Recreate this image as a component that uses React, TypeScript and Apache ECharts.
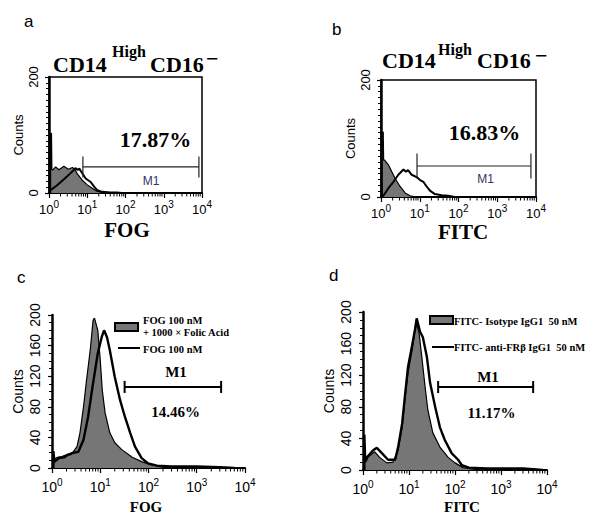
import React, { useEffect, useRef } from "react";
import * as echarts from "echarts";

const SANS = "'Liberation Sans', Arial, sans-serif";
const SERIF = "'Liberation Serif', 'Times New Roman', serif";

// ---- data (x = fluorescence intensity, y = counts) ----
const aControl = [[1.1,0],[1.1,103],[1.16,103],[1.19,40],[1.26,40],[1.49,45],[1.82,40],[2.45,46],[3.2,41],[4.1,44],[4.7,41],[5.5,33],[7.4,22],[10,14],[13.5,8],[18,3],[24.5,1],[40,0],[10000,0]];
const aStained = [[1.1,5],[1.6,13],[2.5,24],[3.5,33],[5.0,43],[5.5,40],[6.2,42],[7.4,34],[9.1,25],[12.3,19],[15.1,11],[18.2,5],[24.5,2],[40,1],[60,1],[80,0]];
const aGate = [7.7, 8300, 45];

const bControl = [[1.08,0],[1.08,111],[1.14,111],[1.17,63],[1.24,63],[1.55,55],[1.9,43],[2.3,32],[3.1,18],[4.2,7],[5.6,2],[8,0],[10000,0]];
const bStained = [[1.1,0],[1.55,15],[2.1,26],[2.8,38],[3.8,47],[4.4,43],[5.0,46],[6.2,38],[8.3,34],[10.2,29],[12.4,26],[15,18],[18.3,11],[24.6,5],[37,3],[55,2],[79,0]];
const bGate = [8.5, 7400, 53];

const cBlocked = [[1.06,7],[1.15,12],[1.3,14],[1.6,15],[2.1,18],[2.4,17],[2.75,21],[3.3,28],[3.8,46],[4.5,80],[5.2,115],[6.2,154],[7.1,193],[7.6,196],[8.9,180],[10,141],[11,102],[12.6,72],[15.8,46],[20,33],[28,24],[46,14],[74,8],[117,4],[200,1],[400,0],[10000,0]];
const cFog = [[1.07,0],[1.07,22],[1.12,8],[1.4,13],[1.8,14],[2.1,17],[2.8,20],[3.5,21],[4.5,37],[5.6,67],[7.1,111],[8.9,150],[10.7,171],[12,180],[13.8,171],[15.8,154],[20,119],[25.7,89],[32.4,67],[41.7,46],[52.5,28],[72,13],[98,6],[150,3],[300,2],[1000,2],[3000,1],[6000,0]];
const cGate = [32, 3200, 106];

const dIsotype = [[1.06,10],[1.26,16],[1.8,23],[2.3,16],[3.3,9],[4.5,10],[5.8,25],[7.1,54],[8.1,89],[9.5,123],[11.7,152],[13.5,177],[14.7,185],[16.6,173],[19,143],[22.4,105],[25.7,76],[33,47],[47,29],[71,16],[100,9],[150,3],[250,1],[500,0],[10000,0]];
const dAntiFR = [[1.07,0],[1.07,45],[1.12,10],[1.26,17],[1.66,25],[2.0,28],[2.6,21],[3.5,13],[5.0,13],[5.8,29],[7.1,59],[8.1,92],[9.5,130],[11.7,158],[13.5,178],[14.7,192],[17.4,175],[20,168],[24.5,143],[28.8,110],[37,80],[47,54],[60,38],[85,21],[117,13],[141,6],[200,3],[500,2],[1000,2],[3000,2],[5000,1],[8000,0]];
const dGate = [43, 5000, 105];

const decades = [1, 10, 100, 1000];
const minorFactors = [2, 3, 4, 5, 6, 7, 8, 9];
const minorTickValues = decades.flatMap((d) => minorFactors.map((f) => [d * f, 0]));

const panels = [
  { grid: { left: 49, top: 77, width: 153, height: 116 }, box: true, yInterval: 200, yMinor: 20, fs: 13, sfs: 10, ctrl: aControl, stained: aStained, gate: aGate, gateTick: 10.5, ctrlName: "Control", stName: "FOG", lw: 2, yLabelMargin: 9, xLabelMargin: 6, nameGap: 24 },
  { grid: { left: 381, top: 80, width: 155, height: 117 }, box: true, yInterval: 200, yMinor: 20, fs: 13, sfs: 10, ctrl: bControl, stained: bStained, gate: bGate, gateTick: 12.5, ctrlName: "Control", stName: "FITC", lw: 2, yLabelMargin: 9, xLabelMargin: 6, nameGap: 24 },
  { grid: { left: 52, top: 315, width: 193, height: 153 }, box: false, yInterval: 40, yMinor: 4, fs: 14, sfs: 10, ctrl: cBlocked, stained: cFog, gate: cGate, gateTick: 6, ctrlName: "FOG 100 nM + 1000 × Folic Acid", stName: "FOG 100 nM", lw: 2.4, yLabelMargin: 10, xLabelMargin: 9, nameGap: 27 },
  { grid: { left: 363, top: 312, width: 184, height: 158 }, box: false, yInterval: 40, yMinor: 4, fs: 14, sfs: 10, ctrl: dIsotype, stained: dAntiFR, gate: dGate, gateTick: 6, ctrlName: "FITC- Isotype IgG1  50 nM", stName: "FITC- anti-FRβ IgG1  50 nM", lw: 2.4, yLabelMargin: 10, xLabelMargin: 9, nameGap: 27 },
];

function txt(text: string, x: number, y: number, font: string, align = "left", fill = "#000") {
  return { type: "text", x, y, silent: true, style: { text, font, fill, textAlign: align, textVerticalAlign: "middle" } };
}

export default function App() {
  const ref = useRef<HTMLDivElement>(null);
  useEffect(() => {
    const chart = echarts.init(ref.current!, undefined, { renderer: "svg" });
    const grids: any[] = [];
    const xAxes: any[] = [];
    const yAxes: any[] = [];
    const series: any[] = [];
    panels.forEach((p, i) => {
      grids.push({ ...p.grid, containLabel: false, show: p.box, borderColor: "#000", borderWidth: 1.5, backgroundColor: "transparent" });
      xAxes.push({
        type: "log", logBase: 10, min: 1, max: 10000, gridIndex: i,
        axisLine: { show: true, lineStyle: { color: "#000", width: 2 } },
        axisTick: { show: true, length: 5, lineStyle: { color: "#000", width: 1.2 } },
        splitLine: { show: false },
        axisLabel: {
          margin: p.xLabelMargin, showMinLabel: true, showMaxLabel: true,
          formatter: (v: number) => `{b|10}{s|${Math.round(Math.log10(v))}}`,
          rich: {
            b: { fontSize: p.fs, fontFamily: SANS, color: "#000", verticalAlign: "bottom" },
            s: { fontSize: p.sfs, fontFamily: SANS, color: "#000", verticalAlign: "bottom", padding: [0, 0, 7, 0] },
          },
        },
      });
      yAxes.push({
        type: "value", min: 0, max: 200, interval: p.yInterval, gridIndex: i,
        name: "Counts", nameLocation: "middle", nameRotate: 90, nameGap: p.nameGap,
        nameTextStyle: { fontFamily: SANS, fontSize: p.box ? 13 : 14, color: "#000" },
        axisLine: { show: true, lineStyle: { color: "#000", width: 2.5 } },
        axisTick: { show: true, length: 4, lineStyle: { color: "#000", width: 1.2 } },
        minorTick: { show: true, splitNumber: p.yMinor, length: 3, lineStyle: { color: "#000", width: 1 } },
        splitLine: { show: false },
        axisLabel: { rotate: 90, margin: p.yLabelMargin, fontFamily: SANS, fontSize: p.box ? 13 : 14, color: "#000" },
      });
      series.push({
        type: "line", name: p.ctrlName, xAxisIndex: i, yAxisIndex: i, data: p.ctrl, symbol: "none", z: 2,
        lineStyle: { color: "#000", width: 1.2 }, areaStyle: { color: "#767676", opacity: 1 },
      });
      series.push({
        type: "line", name: p.stName, xAxisIndex: i, yAxisIndex: i, data: p.stained, symbol: "none", z: 3,
        lineStyle: { color: "#000", width: p.lw },
      });
      const tl = p.gateTick;
      const big = !p.box;
      series.push({
        type: "custom", name: "M1", xAxisIndex: i, yAxisIndex: i, data: [p.gate], z: 4,
        encode: { x: [0, 1], y: 2 },
        renderItem: (_params: any, api: any) => {
          const a = api.coord([api.value(0), api.value(2)]);
          const b = api.coord([api.value(1), api.value(2)]);
          const st = { stroke: big ? "#000" : "#222", lineWidth: big ? 2 : 1.2 };
          return {
            type: "group",
            children: [
              { type: "line", shape: { x1: a[0], y1: a[1], x2: b[0], y2: b[1] }, style: st },
              { type: "line", shape: { x1: a[0], y1: a[1] - tl, x2: a[0], y2: a[1] + tl }, style: st },
              { type: "line", shape: { x1: b[0], y1: b[1] - tl, x2: b[0], y2: b[1] + tl }, style: st },
            ],
          };
        },
      });
      series.push({
        type: "custom", name: "minor", xAxisIndex: i, yAxisIndex: i, data: minorTickValues, z: 5, silent: true, clip: false,
        renderItem: (_params: any, api: any) => {
          const c = api.coord([api.value(0), 0]);
          return { type: "line", shape: { x1: c[0], y1: c[1], x2: c[0], y2: c[1] + 3.5 }, style: { stroke: "#000", lineWidth: 1 } };
        },
      });
    });

    const bigSerif22 = `bold 22px ${SERIF}`;
    const graphic: any[] = [
      txt("a", 24, 21, `17px ${SANS}`),
      txt("b", 332, 29, `17px ${SANS}`),
      txt("c", 17, 277, `17px ${SANS}`),
      txt("d", 329, 275, `17px ${SANS}`),
      // titles
      txt("CD14", 53, 64.5, bigSerif22), txt("High", 112, 51.5, `bold 16px ${SERIF}`), txt("CD16", 150, 64.5, bigSerif22), txt("−", 206, 58, bigSerif22),
      txt("CD14", 382, 60.5, bigSerif22), txt("High", 438, 49, `bold 16px ${SERIF}`), txt("CD16", 477, 60.5, bigSerif22), txt("−", 535, 55, bigSerif22),
      // percentages
      txt("17.87%", 155.5, 139.5, bigSerif22, "center"),
      txt("16.83%", 484.5, 132.5, bigSerif22, "center"),
      txt("14.46%", 175.5, 412, `bold 15px ${SERIF}`, "center"),
      txt("11.17%", 491.5, 413, `bold 15px ${SERIF}`, "center"),
      // gate labels
      txt("M1", 151, 181, `12px ${SANS}`, "center", "#333366"),
      txt("M1", 485.5, 179, `12px ${SANS}`, "center", "#333366"),
      txt("M1", 176, 372, `bold 15px ${SERIF}`, "center"),
      txt("M1", 488, 377, `bold 15px ${SERIF}`, "center"),
      // axis names
      txt("FOG", 127, 230, `bold 21px ${SERIF}`, "center"),
      txt("FITC", 463, 232, `bold 21px ${SERIF}`, "center"),
      txt("FOG", 146, 507, `bold 15px ${SERIF}`, "center"),
      txt("FITC", 462, 507, `bold 15px ${SERIF}`, "center"),
      // legend c
      { type: "rect", shape: { x: 115, y: 323, width: 23, height: 8 }, style: { fill: "#767676", stroke: "#000", lineWidth: 2 } },
      { type: "line", shape: { x1: 118, y1: 348, x2: 140, y2: 348 }, style: { stroke: "#000", lineWidth: 2 } },
      txt("FOG 100 nM", 143, 320, `bold 10.5px ${SERIF}`),
      txt("+ 1000 × Folic Acid", 143, 332, `bold 10.5px ${SERIF}`),
      txt("FOG 100 nM", 143, 349, `bold 10.5px ${SERIF}`),
      // legend d
      { type: "rect", shape: { x: 430, y: 316, width: 23, height: 8 }, style: { fill: "#767676", stroke: "#000", lineWidth: 2 } },
      { type: "line", shape: { x1: 432, y1: 347, x2: 454, y2: 347 }, style: { stroke: "#000", lineWidth: 2 } },
      txt("FITC- Isotype IgG1  50 nM", 454, 321, `bold 10.5px ${SERIF}`),
      txt("FITC- anti-FRβ IgG1  50 nM", 454, 347, `bold 10.5px ${SERIF}`),
    ];

    chart.setOption({
      animation: false,
      backgroundColor: "#fff",
      grid: grids,
      xAxis: xAxes,
      yAxis: yAxes,
      series,
      graphic,
    });
    return () => chart.dispose();
  }, []);
  return <div ref={ref} style={{ position: "absolute", left: 0, top: 0, width: 600, height: 520 }} />;
}
